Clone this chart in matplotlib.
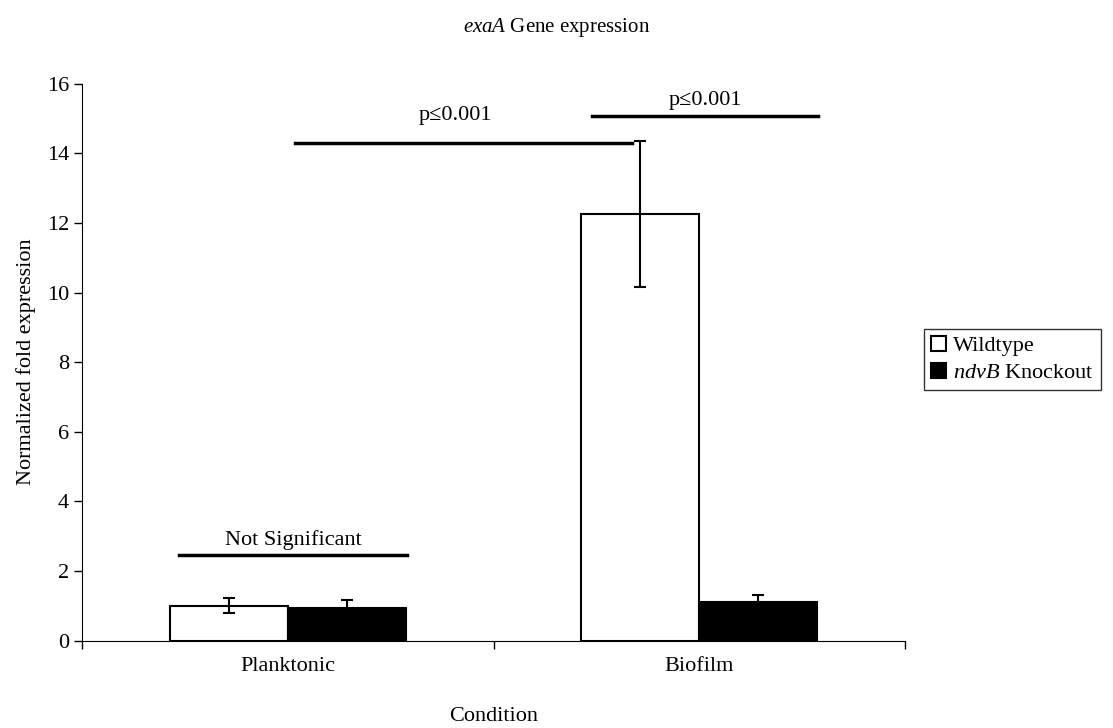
import numpy as np
import matplotlib.pyplot as plt

plt.rcParams['font.family'] = ['Liberation Serif', 'DejaVu Serif']
plt.rcParams['mathtext.fontset'] = 'custom'
plt.rcParams['mathtext.it'] = 'Liberation Serif:italic'
plt.rcParams['mathtext.rm'] = 'Liberation Serif'

conditions = ["Planktonic", "Biofilm"]
wildtype = [1.0, 12.25]
wildtype_err = [0.22, 2.1]
knockout = [0.95, 1.12]
knockout_err = [0.22, 0.2]

fig = plt.figure(figsize=(11.13, 7.28), dpi=100)
ax = fig.add_axes([0.074, 0.12, 0.739, 0.765])

x = np.arange(len(conditions))
w = 0.287
ax.bar(x - w / 2, wildtype, w, yerr=wildtype_err, color="white", edgecolor="black",
       linewidth=1.5, capsize=4, error_kw=dict(elinewidth=1.5, capthick=1.5),
       label="Wildtype")
ax.bar(x + w / 2, knockout, w, yerr=knockout_err, color="black", edgecolor="black",
       linewidth=1.5, capsize=4, error_kw=dict(elinewidth=1.5, capthick=1.5),
       label="$\\it{ndvB}$ Knockout")

# significance bars
ax.plot([-0.264, 0.29], [2.45, 2.45], color="black", lw=2.5)
ax.text(0.013, 2.6, "Not Significant", ha="center", va="bottom", fontsize=16)
ax.plot([0.018, 0.837], [14.3, 14.3], color="black", lw=2.5)
ax.text(0.406, 14.8, "p\u22640.001", ha="center", va="bottom", fontsize=16)
ax.plot([0.739, 1.289], [15.08, 15.08], color="black", lw=2.5)
ax.text(1.014, 15.25, "p\u22640.001", ha="center", va="bottom", fontsize=16)

ax.set_xlim(-0.5, 1.5)
ax.set_ylim(0, 16)
ax.set_yticks(np.arange(0, 17, 2))
ax.set_xticks(x)
ax.set_xticklabels(conditions)
ax.set_xticks([-0.5, 0.5, 1.5], minor=True)
ax.tick_params(axis="x", which="major", length=0, pad=12, labelsize=16)
ax.tick_params(axis="x", which="minor", length=6, width=1)
ax.tick_params(axis="y", length=6, width=1, labelsize=16)
for s in ["top", "right"]:
    ax.spines[s].set_visible(False)

ax.set_xlabel("Condition", fontsize=16, labelpad=22)
ax.set_ylabel("Normalized fold expression", fontsize=16, labelpad=8)
fig.text(0.5, 0.962, "$\\it{exaA}$ Gene expression", ha="center", va="center", fontsize=15)

ax.legend(loc="center left", bbox_to_anchor=(1.01, 0.505), fontsize=16, frameon=True,
          fancybox=False, edgecolor="black", handlelength=0.7, handleheight=0.7,
          handletextpad=0.3, borderpad=0.3, labelspacing=0.3)

fig.savefig("out.png", dpi=100)
